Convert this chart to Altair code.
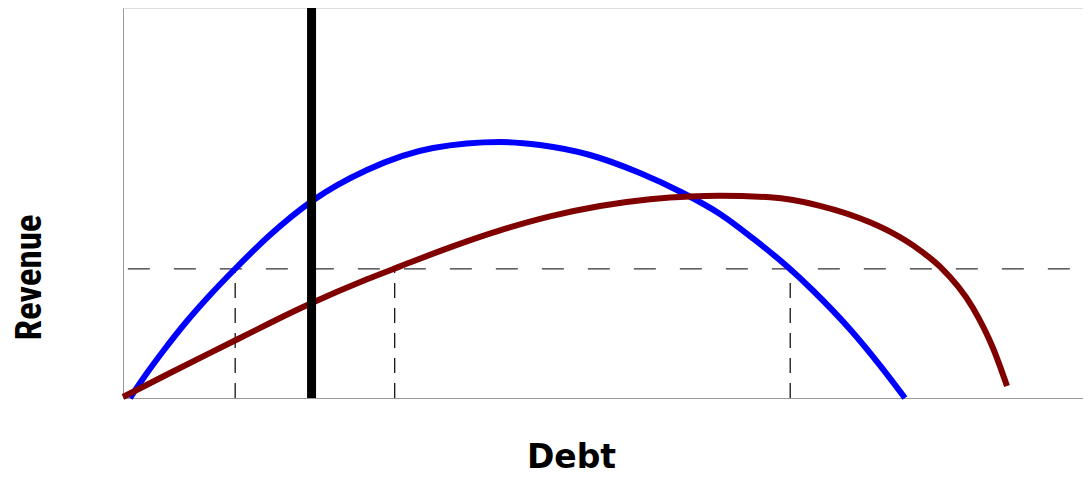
import altair as alt
import pandas as pd

# Blue curve (debt, revenue) in 0-100 units
blue_x = [0.72, 2.48, 4.24, 6.62, 9.00, 11.58, 15.20, 19.55, 25.23, 32.06, 38.99, 43.12,
          48.29, 53.46, 57.91, 61.74, 65.15, 68.67, 71.35, 75.18, 78.28, 80.87]
blue_y = [0.0, 6.41, 12.31, 19.74, 26.41, 33.08, 41.79, 50.51, 58.46, 64.10, 65.64, 64.87,
          62.31, 57.69, 52.56, 47.18, 40.92, 33.77, 27.56, 17.62, 8.38, 0.0]

# Dark red curve
red_x = [0.0, 4.86, 11.79, 15.20, 19.34, 25.23, 28.65, 33.82, 38.99, 44.16, 49.33, 54.50,
         58.63, 61.74, 66.91, 72.08, 77.25, 79.32, 82.42, 84.49, 87.90, 89.97, 91.42]
red_y = [0.26, 6.41, 14.99, 19.23, 24.15, 30.44, 33.74, 38.62, 42.97, 46.56, 49.23, 50.97,
         51.69, 51.85, 51.46, 49.28, 45.05, 42.64, 37.87, 33.67, 23.08, 12.82, 3.08]

# Black vertical line (debt limit)
limit_x = [19.5]
limit_top = [100.0]

# Dashed reference revenue level and the debt levels where curves cross it
level_y = [33.1]
level_x_start = [0.5]
level_x_end = [99.28]
cross_x = [11.6, 28.1, 69.0]

blue_df = pd.DataFrame({"x": blue_x, "y": blue_y})
red_df = pd.DataFrame({"x": red_x, "y": red_y})
limit_df = pd.DataFrame({"x": limit_x, "y": [0.0], "y2": limit_top})
hline_df = pd.DataFrame({"x": level_x_start, "x2": level_x_end, "y": level_y})
vline_df = pd.DataFrame({"x": cross_x, "y": [0.0] * len(cross_x), "y2": level_y * len(cross_x)})


def X():
    return alt.X(
        "x:Q",
        scale=alt.Scale(domain=[0, 99.28], nice=False, zero=False),
        axis=alt.Axis(
            title="Debt", ticks=False, labels=False, grid=False,
            domainColor="#999999", domainWidth=1,
            titleFont="DejaVu Sans", titleFontSize=33, titleFontWeight="bold",
            titleColor="#000000", titleX=448, titleY=69, titleAlign="center",
            titleBaseline="alphabetic",
        ),
    )


def Y():
    return alt.Y(
        "y:Q",
        scale=alt.Scale(domain=[0, 100], nice=False, zero=False),
        axis=alt.Axis(
            title="Revenue", ticks=False, labels=False, grid=False,
            domainColor="#999999", domainWidth=1,
            titleFont="Roboto Condensed, DejaVu Sans Condensed, Roboto, sans-serif",
            titleFontSize=37, titleFontWeight="bold",
            titleColor="#000000", titleX=-94, titleY=269, titleAngle=270,
            titleAlign="center", titleBaseline="middle",
        ),
    )


hline = alt.Chart(hline_df).mark_rule(color="#333333", strokeWidth=1.2, strokeDash=[22, 24]).encode(
    x=X(), x2="x2:Q", y=Y()
)
vlines = alt.Chart(vline_df).mark_rule(color="#000000", strokeWidth=1.2, strokeDash=[15, 10]).encode(
    x=X(), y=Y(), y2="y2:Q"
)
blue = alt.Chart(blue_df).mark_line(color="#0000ff", strokeWidth=6, interpolate="monotone").encode(
    x=X(), y=Y(), order="x:Q"
)
red = alt.Chart(red_df).mark_line(color="#800000", strokeWidth=6, interpolate="monotone").encode(
    x=X(), y=Y(), order="x:Q"
)
limit = alt.Chart(limit_df).mark_rule(color="#000000", strokeWidth=9).encode(
    x=X(), y=Y(), y2="y2:Q"
)

chart = (
    alt.layer(hline, vlines, blue, red, limit)
    .properties(
        width=960, height=390,
        autosize=alt.AutoSizeParams(type="none"),
        padding={"left": 115, "top": 0, "right": 0, "bottom": 77},
    )
    .configure_view(stroke=None)
    .configure(background="white")
)

chart.save("out.html", embed_options={"renderer": "svg", "actions": False})
